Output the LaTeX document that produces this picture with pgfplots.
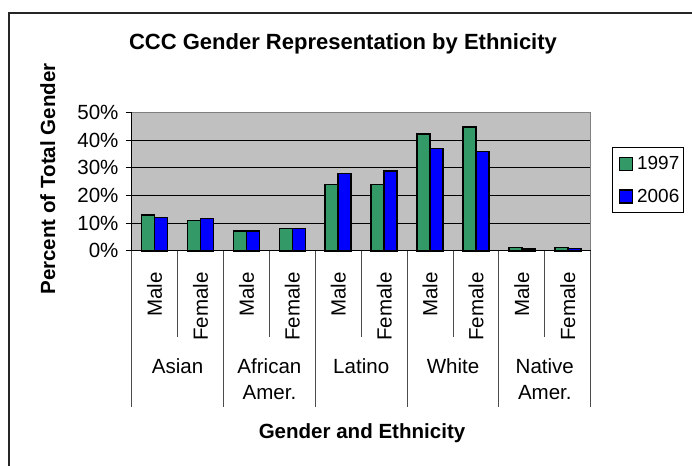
\documentclass[border=0pt]{standalone}
\usepackage{fontspec}
\setmainfont{Liberation Sans}
\usepackage{graphicx}
\usepackage{pgfplots}
\pgfplotsset{compat=1.18}

\definecolor{bar97}{RGB}{51,153,102}
\definecolor{bar06}{RGB}{0,0,255}
\definecolor{plotbg}{RGB}{192,192,192}
\definecolor{rimgray}{RGB}{128,128,128}

\newcommand\lbl{\fontsize{15.4}{18.5}\selectfont}

\pgfplotsset{
  sqlegend/.style={legend image code/.code={
      \draw[##1, /tikz/.cd, line width=1.1pt] (3.75pt,-4.875pt) rectangle (13.5pt,4.875pt);
      \path (0pt,0pt) (14.5pt,0pt);}},
}

\begin{document}
\begin{tikzpicture}
\begin{scope}[x=0.75pt,y=-0.75pt]
  \useasboundingbox (0,0) rectangle (692,466);
  % chart frame
  \draw[line width=0.9pt, black!85] (9,466) -- (9,13) -- (692,13);
  % titles
  \node[font=\bfseries\fontsize{16.5}{20}\selectfont, anchor=base] at (343,50) {CCC Gender Representation by Ethnicity};
  \node[font=\bfseries\lbl, rotate=90, anchor=base] at (55,179) {Percent of Total Gender};
  \node[font=\bfseries\lbl, anchor=base] at (362,438.5) {Gender and Ethnicity};
\end{scope}

\begin{axis}[
  at={(98.78pt,-188.03pt)}, anchor=south west,
  scale only axis, width=344.25pt, height=103.5pt,
  xmin=-0.5, xmax=9.5, ymin=0, ymax=50,
  ytick={0,10,20,30,40,50},
  yticklabel={\pgfmathprintnumber{\tick}\%},
  /pgf/number format/assume math mode=true,
  tick align=outside, major tick length=4.5pt,
  tick style={black, line width=0.75pt},
  ytick pos=left, xtick pos=bottom,
  ymajorgrids, grid style={black, line width=0.75pt},
  axis line style={draw=none},
  axis background/.style={fill=plotbg},
  xtick={0,...,9},
  xticklabels={\rotatebox{90}{Male}, \rotatebox{90}{Female},
               \rotatebox{90}{Male}, \rotatebox{90}{Female},
               \rotatebox{90}{Male}, \rotatebox{90}{Female},
               \rotatebox{90}{Male}, \rotatebox{90}{Female},
               \rotatebox{90}{Male}, \rotatebox{90}{Female}},
  xtick style={draw=none},
  xticklabel style={anchor=north, inner sep=0pt, yshift=-11.5pt, font=\lbl},
  yticklabel style={anchor=east, inner sep=0pt, xshift=-5.25pt, font=\lbl},
  extra x ticks={0.5,2.5,4.5,6.5,8.5},
  extra x tick labels={Asian, {African\\Amer.}, Latino, White, {Native\\Amer.}},
  extra x tick style={xtick style={draw=none},
    xticklabel style={align=center, yshift=-64.5pt,
      font=\fontsize{15.4}{20}\selectfont}},
  ybar, bar width=0.284,
  clip=false,
  legend style={at={(1.0458,0.749)}, anchor=north west, draw=black,
    line width=0.75pt, fill=white, font=\fontsize{14.2}{17}\selectfont,
    inner xsep=1pt, inner ysep=4.5pt, row sep=9pt,
    nodes={inner sep=2pt}},
  legend cell align=left,
]
\addplot[fill=bar97, draw=black, line width=1.2pt, bar shift=-0.142, sqlegend]
  coordinates {(0,13) (1,11) (2,7.2) (3,8.1) (4,24) (5,24) (6,42.2) (7,44.9) (8,1.2) (9,1.1)};
\addplot[fill=bar06, draw=black, line width=1.2pt, bar shift=0.142, sqlegend]
  coordinates {(0,12) (1,11.7) (2,7.2) (3,8.1) (4,28) (5,28.9) (6,37) (7,36) (8,0.7) (9,0.8)};
\legend{1997,2006}
% plot-area rim
\draw[rimgray, line width=0.75pt] (rel axis cs:0,1) -- (rel axis cs:1,1) -- (rel axis cs:1,0);
\draw[black, line width=0.75pt] (rel axis cs:0,1) -- (rel axis cs:0,0) -- (rel axis cs:1,0);
% category dividers below the axis
\pgfplotsinvokeforeach{-0.5,1.5,3.5,5.5,7.5,9.5}{
  \draw[black!70, line width=0.75pt] (axis cs:#1,0) -- ++(0pt,-117pt);}
\pgfplotsinvokeforeach{0.5,2.5,4.5,6.5,8.5}{
  \draw[black!70, line width=0.75pt] (axis cs:#1,0) -- ++(0pt,-64.5pt);}
\end{axis}
\end{tikzpicture}
\end{document}
